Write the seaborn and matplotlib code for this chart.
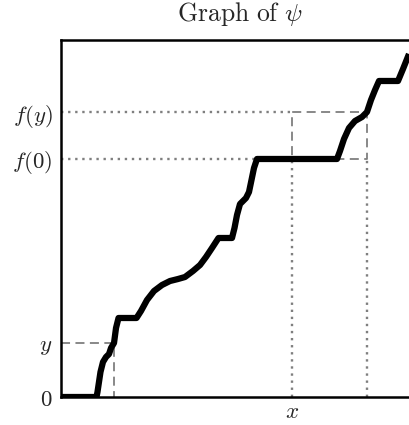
import matplotlib
matplotlib.use("Agg")
import matplotlib.pyplot as plt
import seaborn as sns
import pandas as pd

# Curve of psi (axis units 0..1)
curve_x = [0, 0.0994, 0.1022, 0.1064, 0.1106, 0.1176, 0.1261, 0.1345, 0.1401, 0.1485,
           0.1541, 0.1611, 0.2115, 0.2241, 0.2409, 0.2605, 0.2829, 0.3053, 0.3277,
           0.3473, 0.3697, 0.3894, 0.4062, 0.4230, 0.4412, 0.4790, 0.4860, 0.4930,
           0.5014, 0.5182, 0.5266, 0.5336, 0.5406, 0.5490, 0.7731, 0.7815, 0.7927,
           0.8067, 0.8235, 0.8431, 0.8571, 0.8683, 0.8796, 0.8908, 0.9440, 0.9580, 0.9748]
curve_y = [0, 0, 0.0140, 0.0420, 0.0700, 0.0980, 0.1120, 0.1204, 0.1373, 0.1513,
           0.1933, 0.2213, 0.2213, 0.2409, 0.2717, 0.2969, 0.3137, 0.3249, 0.3305,
           0.3361, 0.3529, 0.3697, 0.3922, 0.4174, 0.4454, 0.4454, 0.4734, 0.5098,
           0.5406, 0.5574, 0.5742, 0.6078, 0.6415, 0.6667, 0.6667, 0.6891, 0.7227,
           0.7535, 0.7731, 0.7843, 0.7983, 0.8319, 0.8599, 0.8852, 0.8852, 0.9188, 0.9608]

# Marked levels
y_val = 0.1513
x_at_y = 0.1485
f0 = 0.6667
fy = 0.7983
x_val = 0.647
x_right = 0.857

ytick_vals = [0, y_val, f0, fy]
ytick_labels = [r"$0$", r"$y$", r"$f(0)$", r"$f(y)$"]
xtick_vals = [x_val]
xtick_labels = [r"$x$"]

sns.set_style("white")
plt.rcParams["mathtext.fontset"] = "cm"

fig = plt.figure(figsize=(4.09, 4.25), dpi=100)
ax = fig.add_axes([61 / 409, 28 / 425, 357 / 409, 357 / 425])

gray = "#7f7f7f"
# dotted guides
ax.plot([0, x_val], [fy, fy], color=gray, ls=(0, (1, 2)), lw=1.7)
ax.plot([0, 0.549], [f0, f0], color=gray, ls=(0, (1, 2)), lw=1.7)
ax.plot([x_val, x_val], [0, f0], color=gray, ls=(0, (1, 2)), lw=1.7)
ax.plot([x_right, x_right], [0, f0], color=gray, ls=(0, (1, 2)), lw=1.7)
# dashed guides
ax.plot([0, x_at_y, x_at_y], [y_val, y_val, 0], color=gray, ls=(0, (5, 3)), lw=1.3)
ax.plot([x_val, x_right, x_right, x_val, x_val], [f0, f0, fy, fy, f0],
        color=gray, ls=(0, (5, 3)), lw=1.3)

df = pd.DataFrame({"x": curve_x, "y": curve_y})
sns.lineplot(data=df, x="x", y="y", sort=False, color="black", lw=4.5, ax=ax,
             solid_joinstyle="round", solid_capstyle="butt")

ax.set_xlim(0, 1)
ax.set_ylim(0, 1)
ax.set_xticks(xtick_vals, xtick_labels, fontsize=16.5)
ax.set_yticks(ytick_vals, ytick_labels, fontsize=16.5)
ax.tick_params(length=0, pad=6)
ax.tick_params(axis="x", pad=2)
ax.set_xlabel("")
ax.set_ylabel("")
for s in ["left", "top", "bottom", "right"]:
    ax.spines[s].set_color("black")
    ax.spines[s].set_linewidth(1.8)
ax.set_title(r"$\mathrm{Graph\ of}\ \psi$", fontsize=18.5, pad=14)

fig.savefig("out.png", dpi=100)
